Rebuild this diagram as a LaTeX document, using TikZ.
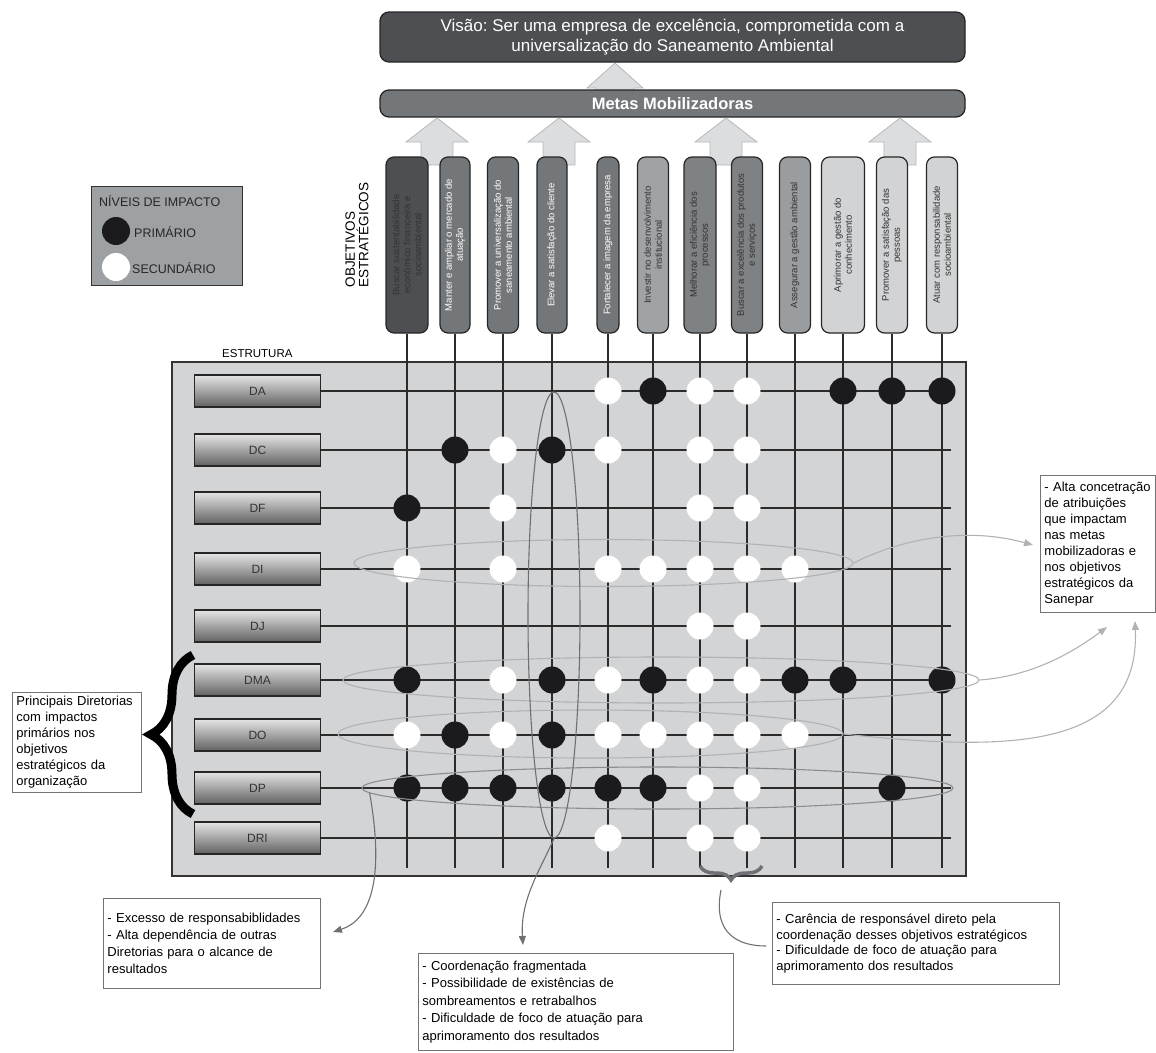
\documentclass[tikz,border=0pt]{standalone}
\usepackage{fontspec}
\setmainfont{Liberation Sans}
\usetikzlibrary{shapes.geometric,arrows.meta,decorations.pathreplacing}
\frenchspacing

\definecolor{darkbox}{HTML}{4D4F52}
\definecolor{midbox}{HTML}{74777A}
\definecolor{midboxb}{HTML}{7F8285}
\definecolor{lightbox}{HTML}{A0A3A6}
\definecolor{lightboxb}{HTML}{9A9DA0}
\definecolor{palebox}{HTML}{D1D3D4}
\definecolor{panel}{HTML}{D2D4D5}
\definecolor{legfill}{HTML}{9EA1A4}
\definecolor{arrfill}{HTML}{DCDDDE}
\definecolor{arrline}{HTML}{B6B8BA}
\definecolor{ringlight}{HTML}{B0B2B4}
\definecolor{ringdark}{HTML}{6E7073}
\definecolor{gridline}{HTML}{2B2B2B}
\definecolor{dotblack}{HTML}{1B1A1D}

\newcommand\txtsize[2]{\fontsize{#1}{#2}\selectfont}

\begin{document}
\begin{tikzpicture}[x=1pt, y=-1pt,
  objbox/.style={draw=black!85, line width=1.2pt, rounded corners=8pt, rotate=90,
    minimum width=176pt, inner sep=1pt, align=center, font=\txtsize{9.5}{11}},
  rowbox/.style={draw=black!85, line width=1.2pt, top color=gray!20, bottom color=black!62,
    minimum width=126pt, minimum height=32pt, font=\txtsize{12}{13}, text=black!80},
  ring/.style={ellipse, draw=ringlight, line width=1.1pt, inner sep=0pt},
  note/.style={draw=black!55, line width=0.9pt, align=left, anchor=north west,
    inner sep=4pt, font=\txtsize{13}{17}},
  link/.style={draw=ringlight, line width=1.1pt, -{Triangle[length=9pt,width=7pt]}},
  upshaft/.style={fill=arrfill, draw=arrline, line width=0.8pt}
]
\useasboundingbox (0,0) rectangle (1156,1052);

\filldraw[upshaft] (615,63) -- (643,88) -- (634,88) -- (634,100) -- (596,100) -- (596,88) -- (587,88) -- cycle;
\node[draw=black!85, fill=darkbox, line width=1.3pt, rounded corners=9pt, minimum width=585pt, minimum height=50pt,
  align=center, text=white, font=\txtsize{17}{20}] (vis) at (672.5,37)
  {Visão: Ser uma empresa de excelência, comprometida com a\\universalização do Saneamento Ambiental};
\node[draw=black!85, fill=midbox, line width=1.3pt, rounded corners=9pt, minimum width=585pt, minimum height=27pt,
  text=white, font=\txtsize{16.5}{18}\bfseries] (metas) at (672.5,103.5) {Metas Mobilizadoras};

\foreach \ax in {437,559,726,900}
  \filldraw[upshaft] (\ax,118) -- (\ax+31,142) -- (\ax+16,142) -- (\ax+16,165) -- (\ax-16,165) -- (\ax-16,142) -- (\ax-31,142) -- cycle;

\node[rotate=90, anchor=north west, align=left, font=\txtsize{13.5}{13.5}] (objlbl) at (342,291) {OBJETIVOS\\ESTRATÉGICOS};

\node[objbox, fill=darkbox, text=black!80, minimum height=42pt] (o1) at (407,245) {Buscar sustentabilidade\\econômico financeira e\\socioambiental};
\node[objbox, fill=midbox, text=white, minimum height=30pt] (o2) at (455,245) {Manter e ampliar o mercado de\\atuação};
\node[objbox, fill=midbox, text=white, minimum height=31pt] (o3) at (503,245) {Promover a universalização do\\saneamento ambiental};
\node[objbox, fill=midbox, text=white, minimum height=30pt] (o4) at (552,245) {Elevar a satisfação do cliente};
\node[objbox, fill=midbox, text=white, minimum height=22pt] (o5) at (608,245) {Fortalecer a imagem da empresa};
\node[objbox, fill=lightbox, text=black!80, minimum height=31pt] (o6) at (653,245) {Investir no desenvolvimento\\institucional};
\node[objbox, fill=midboxb, text=black!80, minimum height=32pt] (o7) at (700,245) {Melhorar a eficiência dos\\processos};
\node[objbox, fill=midboxb, text=black!80, minimum height=31pt] (o8) at (747,245) {Buscar a excelência dos produtos\\e serviços};
\node[objbox, fill=lightboxb, text=black!80, minimum height=31pt] (o9) at (795,245) {Assegurar a gestão ambiental};
\node[objbox, fill=palebox, text=black!80, minimum height=43pt] (o10) at (843,245) {Aprimorar a gestão do\\conhecimento};
\node[objbox, fill=palebox, text=black!80, minimum height=31pt] (o11) at (892,245) {Promover a satisfação das\\pessoas};
\node[objbox, fill=palebox, text=black!80, minimum height=31pt] (o12) at (942,245) {Atuar com responsabilidade\\socioambiental};

\node[draw=black!80, fill=legfill, line width=1pt, minimum width=151pt, minimum height=99pt] (leg) at (166.5,235.5) {};
\node[anchor=west, font=\txtsize{12.5}{13}, text=black!85, inner sep=0pt] (legtit) at (99,201) {NÍVEIS DE IMPACTO};
\node[circle, fill=dotblack, minimum size=28pt, inner sep=0pt] (legp) at (116,231) {};
\node[circle, fill=white, minimum size=28pt, inner sep=0pt] (legs) at (116,267) {};
\node[anchor=west, font=\txtsize{12.5}{13}, text=black!85, inner sep=0pt] (legptxt) at (134,232) {PRIMÁRIO};
\node[anchor=west, font=\txtsize{12.5}{13}, text=black!85, inner sep=0pt] (legstxt) at (132,268) {SECUNDÁRIO};

\node[anchor=west, font=\txtsize{11.5}{13}, inner sep=0pt] (estr) at (222,354) {ESTRUTURA};
\draw[fill=panel, line width=1.3pt, draw=black!80] (172,362) rectangle (966,876);

\foreach \c in {1,...,12}
  \draw[gridline, line width=1.4pt] (o\c.west) -- (o\c.west |- 0,868);

\node[rowbox] (rDA) at (257.5,391) {DA};
\node[rowbox] (rDC) at (257.5,450) {DC};
\node[rowbox] (rDF) at (257.5,508) {DF};
\node[rowbox] (rDI) at (257.5,569) {DI};
\node[rowbox] (rDJ) at (257.5,626) {DJ};
\node[rowbox] (rDMA) at (257.5,680) {DMA};
\node[rowbox] (rDO) at (257.5,735) {DO};
\node[rowbox] (rDP) at (257.5,788) {DP};
\node[rowbox] (rDRI) at (257.5,838) {DRI};

\foreach \r in {DA,DC,DF,DI,DJ,DMA,DO,DP,DRI}
  \draw[gridline, line width=1.4pt] (r\r.east) -- (r\r -| 951,0);

\foreach \c in {6,10,11,12} \fill[dotblack] (o\c |- rDA) circle[radius=13.5];
\foreach \c in {5,7,8} \fill[white] (o\c |- rDA) circle[radius=13.5];
\foreach \c in {2,4} \fill[dotblack] (o\c |- rDC) circle[radius=13.5];
\foreach \c in {3,5,7,8} \fill[white] (o\c |- rDC) circle[radius=13.5];
\foreach \c in {1} \fill[dotblack] (o\c |- rDF) circle[radius=13.5];
\foreach \c in {3,7,8} \fill[white] (o\c |- rDF) circle[radius=13.5];
\foreach \c in {1,3,5,6,7,8,9} \fill[white] (o\c |- rDI) circle[radius=13.5];
\foreach \c in {7,8} \fill[white] (o\c |- rDJ) circle[radius=13.5];
\foreach \c in {1,4,6,9,10,12} \fill[dotblack] (o\c |- rDMA) circle[radius=13.5];
\foreach \c in {3,5,7,8} \fill[white] (o\c |- rDMA) circle[radius=13.5];
\foreach \c in {2,4} \fill[dotblack] (o\c |- rDO) circle[radius=13.5];
\foreach \c in {1,3,5,6,7,8,9} \fill[white] (o\c |- rDO) circle[radius=13.5];
\foreach \c in {1,2,3,4,5,6,11} \fill[dotblack] (o\c |- rDP) circle[radius=13.5];
\foreach \c in {7,8} \fill[white] (o\c |- rDP) circle[radius=13.5];
\foreach \c in {5,7,8} \fill[white] (o\c |- rDRI) circle[radius=13.5];

\node[ring, minimum width=499pt, minimum height=47pt] (eDI) at (603.5,563) {};
\node[ring, minimum width=636pt, minimum height=46pt] (eDMA) at (661,680) {};
\node[ring, minimum width=505pt, minimum height=48pt] (eDO) at (590.5,734) {};
\node[ring, draw=ringdark!80, minimum width=591pt, minimum height=42pt] (eDP) at (657.5,788) {};
\node[ring, draw=ringdark, minimum width=52pt, minimum height=446pt] (eV) at (554,615) {};

\draw[decorate, decoration={brace, amplitude=42pt}, line width=9pt] (193,814) -- (193,655);
\draw[decorate, decoration={brace, amplitude=14pt}, line width=3.5pt, draw=ringdark] (762,866) -- (700,866);

\node[note, text width=121pt, minimum height=100pt, font=\txtsize{13}{16}] (tPrin) at (12,692) {Principais Diretorias\\com impactos\\primários nos\\objetivos\\estratégicos da\\organização};
\node[note, text width=107pt, minimum height=137pt, font=\txtsize{13}{16}] (tAlta) at (1040,475) {- Alta concetração\\de atribuições\\que impactam\\nas metas\\mobilizadoras e\\nos objetivos\\estratégicos da\\Sanepar};
\node[note, text width=209pt, minimum height=90pt] (tExc) at (103,898) {- Excesso de responsabiblidades\\- Alta dependência de outras\\Diretorias para o alcance de\\resultados};
\node[note, text width=307pt, minimum height=97pt, font=\txtsize{13}{17.5}] (tCoo) at (418,953) {- Coordenação fragmentada\\- Possibilidade de existências de\\sombreamentos e retrabalhos\\- Dificuldade de foco de atuação para\\aprimoramento dos resultados};
\node[note, text width=279pt, minimum height=82pt, font=\txtsize{13}{15.7}] (tCar) at (772,902) {- Carência de responsável direto pela\\coordenação desses objetivos estratégicos\\- Dificuldade de foco de atuação para\\aprimoramento dos resultados};

\coordinate (aDI) at (1033,545);
\coordinate (aDMA) at (1107,627);
\coordinate (aDO) at (1135,621);
\coordinate (aDP) at (333,932);
\coordinate (aV) at (523,945);
\coordinate (bC) at (721,890);
\coordinate (eC) at (766,946);

\draw[link] (eDI.east) .. controls (895,542) and (960,525) .. (aDI);
\draw[link] (eDMA.east) .. controls (1020,677) and (1060,662) .. (aDMA);
\draw[link] (eDO.east) .. controls (1010,752) and (1140,750) .. (aDO);
\draw[link, draw=ringdark] (eDP.181.4) .. controls (385,880) and (370,920) .. (aDP);
\draw[link, draw=ringdark] (eV.south) .. controls (540,870) and (520,900) .. (aV);
\draw[ringdark, line width=1.1pt] (bC) .. controls (712,935) and (740,946) .. (eC);
\end{tikzpicture}
\end{document}
